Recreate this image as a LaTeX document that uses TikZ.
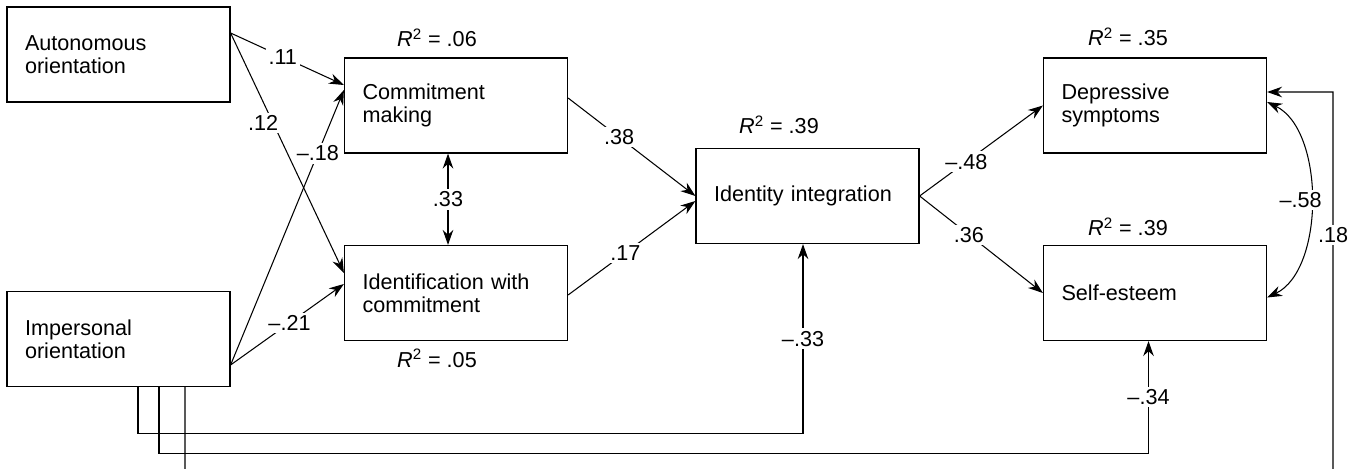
\documentclass[tikz,border=0pt]{standalone}
\usepackage{fontspec}
\setmainfont{Liberation Sans}
\usetikzlibrary{arrows.meta}

\newcommand{\rsq}[1]{\textit{R}\textsuperscript{2} = #1}

\begin{document}
\begin{tikzpicture}[x=0.02cm, y=-0.02cm,
    every node/.style={font=\fontsize{12.3}{13.1}\selectfont},
    var/.style={draw, line width=0.7pt, minimum width=4.46cm, minimum height=1.9cm,
                text width=3.74cm, inner xsep=0.36cm, align=left},
    coef/.style={fill=white, inner sep=1.5pt},
    arr/.style={line width=0.6pt, -{Stealth[length=8.5pt,width=6pt]}},
    dbl/.style={line width=0.6pt, {Stealth[length=8.5pt,width=6pt]}-{Stealth[length=8.5pt,width=6pt]}}]
    \useasboundingbox (0,0) rectangle (1354,469);
    \clip (0,0) rectangle (1354,469);

    % boxes
    \node[var] (auto)  at (118.5,54.5) {Autonomous\\orientation};
    \node[var] (imp)   at (118.5,339)  {Impersonal\\orientation};
    \node[var] (make)  at (456,105.5)  {Commitment\\making};
    \node[var] (ident) at (456,293)    {Identification with\\commitment};
    \node[var] (integ) at (807.5,196)  {Identity integration};
    \node[var] (dep)   at (1155,105.5) {Depressive\\symptoms};
    \node[var] (self)  at (1155,293)   {Self-esteem};

    % explained variance
    \node (rmake)  at (437,38)  {\rsq{.06}};
    \node (rident) at (437,358) {\rsq{.05}};
    \node (rinteg) at (779,125) {\rsq{.39}};
    \node (rdep)   at (1128,37) {\rsq{.35}};
    \node (rself)  at (1128,227) {\rsq{.39}};

    % orientations to commitment
    \draw[arr] ([yshift=0.43cm]auto.east) -- node[coef, pos=0.46] {.11} ([yshift=0.41cm]make.west);
    \draw[arr] ([yshift=0.43cm]auto.east) -- node[coef, pos=0.375, xshift=-0.2cm] {.12} ([yshift=0.4cm]ident.west);
    \draw[arr] ([yshift=-0.52cm]imp.east) -- node[coef, pos=0.77] {–.18} ([yshift=0.31cm]make.west);
    \draw[arr] ([yshift=-0.52cm]imp.east) -- node[coef, pos=0.52] {–.21} ([yshift=0.18cm]ident.west);
    \draw[dbl] ([xshift=-0.16cm]make.south) -- node[coef] {.33} ([xshift=-0.16cm]ident.north);

    % commitment to integration
    \draw[arr] ([yshift=0.15cm]make.east) -- node[coef, pos=0.4] {.38} (integ.west);
    \draw[arr] ([yshift=-0.04cm]ident.east) -- node[coef, pos=0.45] {.17} ([yshift=-0.1cm]integ.west);

    % integration to outcomes
    \draw[arr] (integ.east) -- node[coef, pos=0.38] {–.48} (dep.west);
    \draw[arr] (integ.east) -- node[coef, pos=0.4] {.36} (self.west);
    \draw[dbl] ([yshift=0.07cm]dep.east) .. controls (1325,130) and (1325,270) .. ([yshift=-0.09cm]self.east)
        node[coef, pos=0.5, xshift=-0.2cm] {–.58};

    % direct paths from impersonal orientation
    \coordinate (turn) at (1333,478);
    \draw[arr] ([xshift=0.39cm]imp.south) -- ++(0,46) -| node[coef, pos=0.75] {–.33} ([xshift=-0.09cm]integ.south);
    \draw[arr] ([xshift=0.81cm]imp.south) -- ++(0,66) -| node[coef, pos=0.75] {–.34} ([xshift=-0.13cm]self.south);
    \draw[arr] ([xshift=1.33cm]imp.south) -- ++(0,92) -- (turn) |- node[coef, pos=0.315] {.18} ([yshift=0.27cm]dep.east);
\end{tikzpicture}
\end{document}
